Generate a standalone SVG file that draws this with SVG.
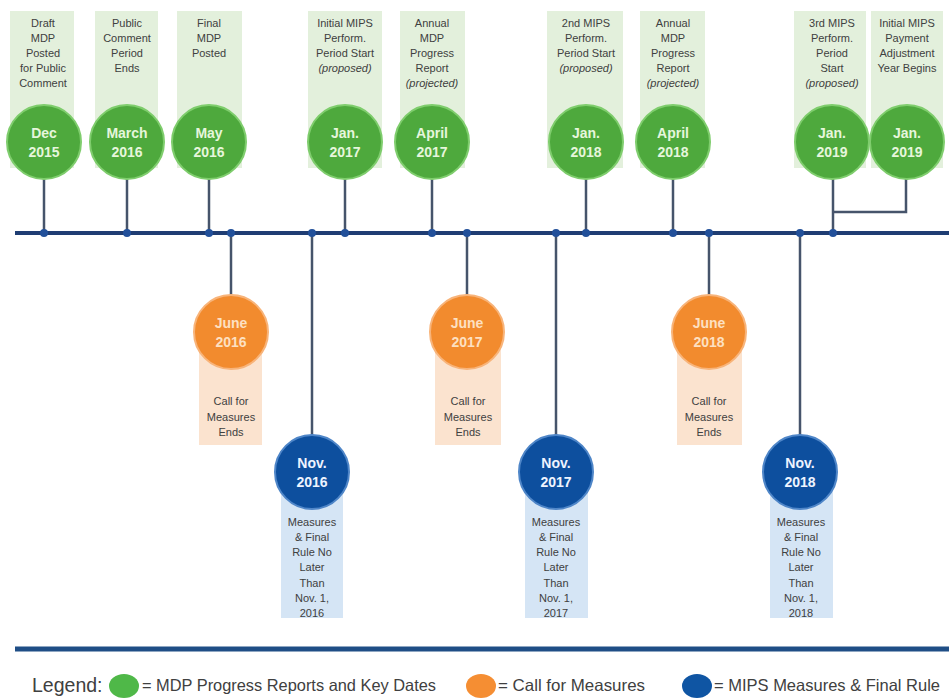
<svg xmlns="http://www.w3.org/2000/svg" width="949" height="698" viewBox="0 0 949 698">
  <style>
    .box-g { fill: #e3f0dc; }
    .box-o { fill: #fbe3cf; }
    .box-b { fill: #d5e5f5; }
    .c-g { fill: #4ea93d; stroke: #7fcd6d; stroke-width: 2; }
    .c-o { fill: #f28b2e; stroke: #f8b47a; stroke-width: 2; }
    .c-b { fill: #0d4f9e; stroke: #4f86c8; stroke-width: 2; }
    .lbl { font-family: "Liberation Sans", Arial, sans-serif; font-size: 11px; fill: #404040; text-anchor: middle; }
    .it { font-style: italic; }
    .date { font-family: "Liberation Sans", Arial, sans-serif; font-size: 14px; font-weight: bold; text-anchor: middle; }
    .dg { fill: #e6f6dc; }
    .do { fill: #fde0c2; }
    .db { fill: #eef4ff; }
    .stem { stroke: #46546b; stroke-width: 2.5; fill: none; }
    .axis { stroke: #1f3d73; stroke-width: 4; }
    .dot { fill: #22509a; }
    .leg { font-family: "Liberation Sans", Arial, sans-serif; fill: #404040; }
  </style>

  <!-- connectors: timeline axis, stems and junction dots -->
  <g id="connectors">
    <line class="axis" x1="15" y1="233" x2="949" y2="233"/>
    <line x1="15" y1="649" x2="949" y2="649" stroke="#1f4e86" stroke-width="5"/>
    <!-- stems up to green milestones -->
    <line class="stem" x1="44" y1="175" x2="44" y2="233"/>
    <line class="stem" x1="127" y1="175" x2="127" y2="233"/>
    <line class="stem" x1="209" y1="175" x2="209" y2="233"/>
    <line class="stem" x1="345" y1="175" x2="345" y2="233"/>
    <line class="stem" x1="432" y1="175" x2="432" y2="233"/>
    <line class="stem" x1="586" y1="175" x2="586" y2="233"/>
    <line class="stem" x1="673" y1="175" x2="673" y2="233"/>
    <line class="stem" x1="833" y1="175" x2="833" y2="233"/>
    <polyline class="stem" points="906,175 906,212 833,212"/>
    <!-- stems down to orange and blue milestones -->
    <line class="stem" x1="231" y1="233" x2="231" y2="298"/>
    <line class="stem" x1="467" y1="233" x2="467" y2="298"/>
    <line class="stem" x1="709" y1="233" x2="709" y2="298"/>
    <line class="stem" x1="312" y1="233" x2="312" y2="438"/>
    <line class="stem" x1="556" y1="233" x2="556" y2="438"/>
    <line class="stem" x1="800" y1="233" x2="800" y2="438"/>
    <!-- junction dots -->
    <g class="dot">
      <circle cx="44" cy="233" r="4"/>
      <circle cx="127" cy="233" r="4"/>
      <circle cx="209" cy="233" r="4"/>
      <circle cx="231" cy="233" r="4"/>
      <circle cx="312" cy="233" r="4"/>
      <circle cx="345" cy="233" r="4"/>
      <circle cx="432" cy="233" r="4"/>
      <circle cx="467" cy="233" r="4"/>
      <circle cx="556" cy="233" r="4"/>
      <circle cx="586" cy="233" r="4"/>
      <circle cx="673" cy="233" r="4"/>
      <circle cx="709" cy="233" r="4"/>
      <circle cx="800" cy="233" r="4"/>
      <circle cx="833" cy="233" r="4"/>
    </g>
  </g>

  <!-- green milestones (MDP progress reports and key dates) -->
  <g id="dec-2015">
    <rect class="box-g" x="10" y="11" width="64" height="157"/>
    <text class="lbl" x="43" y="27">Draft</text>
    <text class="lbl" x="43" y="42">MDP</text>
    <text class="lbl" x="43" y="57">Posted</text>
    <text class="lbl" x="43" y="72">for Public</text>
    <text class="lbl" x="43" y="87">Comment</text>
    <circle class="c-g" cx="44" cy="142" r="37"/>
    <text class="date dg" x="44" y="138">Dec</text>
    <text class="date dg" x="44" y="157">2015</text>
  </g>
  <g id="mar-2016">
    <rect class="box-g" x="95" y="11" width="63" height="157"/>
    <text class="lbl" x="127" y="27">Public</text>
    <text class="lbl" x="127" y="42">Comment</text>
    <text class="lbl" x="127" y="57">Period</text>
    <text class="lbl" x="127" y="72">Ends</text>
    <circle class="c-g" cx="127" cy="142" r="37"/>
    <text class="date dg" x="127" y="138">March</text>
    <text class="date dg" x="127" y="157">2016</text>
  </g>
  <g id="may-2016">
    <rect class="box-g" x="177" y="11" width="65" height="157"/>
    <text class="lbl" x="209" y="27">Final</text>
    <text class="lbl" x="209" y="42">MDP</text>
    <text class="lbl" x="209" y="57">Posted</text>
    <circle class="c-g" cx="209" cy="142" r="37"/>
    <text class="date dg" x="209" y="138">May</text>
    <text class="date dg" x="209" y="157">2016</text>
  </g>
  <g id="jan-2017">
    <rect class="box-g" x="308" y="11" width="74" height="157"/>
    <text class="lbl" x="345" y="27">Initial MIPS</text>
    <text class="lbl" x="345" y="42">Perform.</text>
    <text class="lbl" x="345" y="57">Period Start</text>
    <text class="lbl it" x="345" y="72">(proposed)</text>
    <circle class="c-g" cx="345" cy="142" r="37"/>
    <text class="date dg" x="345" y="138">Jan.</text>
    <text class="date dg" x="345" y="157">2017</text>
  </g>
  <g id="apr-2017">
    <rect class="box-g" x="400" y="11" width="65" height="157"/>
    <text class="lbl" x="432" y="27">Annual</text>
    <text class="lbl" x="432" y="42">MDP</text>
    <text class="lbl" x="432" y="57">Progress</text>
    <text class="lbl" x="432" y="72">Report</text>
    <text class="lbl it" x="432" y="87">(projected)</text>
    <circle class="c-g" cx="432" cy="142" r="37"/>
    <text class="date dg" x="432" y="138">April</text>
    <text class="date dg" x="432" y="157">2017</text>
  </g>
  <g id="jan-2018">
    <rect class="box-g" x="547" y="11" width="76" height="157"/>
    <text class="lbl" x="586" y="27">2nd MIPS</text>
    <text class="lbl" x="586" y="42">Perform.</text>
    <text class="lbl" x="586" y="57">Period Start</text>
    <text class="lbl it" x="586" y="72">(proposed)</text>
    <circle class="c-g" cx="586" cy="142" r="37"/>
    <text class="date dg" x="586" y="138">Jan.</text>
    <text class="date dg" x="586" y="157">2018</text>
  </g>
  <g id="apr-2018">
    <rect class="box-g" x="640" y="11" width="65" height="157"/>
    <text class="lbl" x="673" y="27">Annual</text>
    <text class="lbl" x="673" y="42">MDP</text>
    <text class="lbl" x="673" y="57">Progress</text>
    <text class="lbl" x="673" y="72">Report</text>
    <text class="lbl it" x="673" y="87">(projected)</text>
    <circle class="c-g" cx="673" cy="142" r="37"/>
    <text class="date dg" x="673" y="138">April</text>
    <text class="date dg" x="673" y="157">2018</text>
  </g>
  <g id="jan-2019-perf">
    <rect class="box-g" x="794" y="11" width="72" height="157"/>
    <text class="lbl" x="832" y="27">3rd MIPS</text>
    <text class="lbl" x="832" y="42">Perform.</text>
    <text class="lbl" x="832" y="57">Period</text>
    <text class="lbl" x="832" y="72">Start</text>
    <text class="lbl it" x="832" y="87">(proposed)</text>
    <circle class="c-g" cx="832" cy="142" r="37"/>
    <text class="date dg" x="832" y="138">Jan.</text>
    <text class="date dg" x="832" y="157">2019</text>
  </g>
  <g id="jan-2019-payment">
    <rect class="box-g" x="871" y="11" width="72" height="157"/>
    <text class="lbl" x="907" y="27">Initial MIPS</text>
    <text class="lbl" x="907" y="42">Payment</text>
    <text class="lbl" x="907" y="57">Adjustment</text>
    <text class="lbl" x="907" y="72">Year Begins</text>
    <circle class="c-g" cx="907" cy="142" r="37"/>
    <text class="date dg" x="907" y="138">Jan.</text>
    <text class="date dg" x="907" y="157">2019</text>
  </g>

  <!-- orange milestones (call for measures) -->
  <g id="jun-2016">
    <rect class="box-o" x="199" y="320" width="63" height="125"/>
    <circle class="c-o" cx="231" cy="332" r="37"/>
    <text class="date do" x="231" y="328">June</text>
    <text class="date do" x="231" y="347">2016</text>
    <text class="lbl" x="231" y="405">Call for</text>
    <text class="lbl" x="231" y="421">Measures</text>
    <text class="lbl" x="231" y="436">Ends</text>
  </g>
  <g id="jun-2017">
    <rect class="box-o" x="435" y="320" width="66" height="125"/>
    <circle class="c-o" cx="467" cy="332" r="37"/>
    <text class="date do" x="467" y="328">June</text>
    <text class="date do" x="467" y="347">2017</text>
    <text class="lbl" x="468" y="405">Call for</text>
    <text class="lbl" x="468" y="421">Measures</text>
    <text class="lbl" x="468" y="436">Ends</text>
  </g>
  <g id="jun-2018">
    <rect class="box-o" x="677" y="320" width="65" height="125"/>
    <circle class="c-o" cx="709" cy="332" r="37"/>
    <text class="date do" x="709" y="328">June</text>
    <text class="date do" x="709" y="347">2018</text>
    <text class="lbl" x="709" y="405">Call for</text>
    <text class="lbl" x="709" y="421">Measures</text>
    <text class="lbl" x="709" y="436">Ends</text>
  </g>

  <!-- blue milestones (MIPS measures and final rule) -->
  <g id="nov-2016">
    <rect class="box-b" x="281" y="460" width="62" height="158"/>
    <circle class="c-b" cx="312" cy="472" r="37"/>
    <text class="date db" x="312" y="468">Nov.</text>
    <text class="date db" x="312" y="487">2016</text>
    <text class="lbl" x="312" y="526">Measures</text>
    <text class="lbl" x="312" y="541">&amp; Final</text>
    <text class="lbl" x="312" y="556">Rule No</text>
    <text class="lbl" x="312" y="571">Later</text>
    <text class="lbl" x="312" y="587">Than</text>
    <text class="lbl" x="312" y="602">Nov. 1,</text>
    <text class="lbl" x="312" y="617">2016</text>
  </g>
  <g id="nov-2017">
    <rect class="box-b" x="525" y="460" width="63" height="158"/>
    <circle class="c-b" cx="556" cy="472" r="37"/>
    <text class="date db" x="556" y="468">Nov.</text>
    <text class="date db" x="556" y="487">2017</text>
    <text class="lbl" x="556" y="526">Measures</text>
    <text class="lbl" x="556" y="541">&amp; Final</text>
    <text class="lbl" x="556" y="556">Rule No</text>
    <text class="lbl" x="556" y="571">Later</text>
    <text class="lbl" x="556" y="587">Than</text>
    <text class="lbl" x="556" y="602">Nov. 1,</text>
    <text class="lbl" x="556" y="617">2017</text>
  </g>
  <g id="nov-2018">
    <rect class="box-b" x="770" y="460" width="63" height="158"/>
    <circle class="c-b" cx="800" cy="472" r="37"/>
    <text class="date db" x="800" y="468">Nov.</text>
    <text class="date db" x="800" y="487">2018</text>
    <text class="lbl" x="801" y="526">Measures</text>
    <text class="lbl" x="801" y="541">&amp; Final</text>
    <text class="lbl" x="801" y="556">Rule No</text>
    <text class="lbl" x="801" y="571">Later</text>
    <text class="lbl" x="801" y="587">Than</text>
    <text class="lbl" x="801" y="602">Nov. 1,</text>
    <text class="lbl" x="801" y="617">2018</text>
  </g>

  <!-- legend -->
  <g id="legend">
    <text class="leg" x="32" y="692" font-size="19.5">Legend:</text>
    <ellipse cx="124" cy="686" rx="15" ry="12" fill="#4fb848"/>
    <text class="leg" x="142" y="691" font-size="16.5" textLength="294" lengthAdjust="spacingAndGlyphs">= MDP Progress Reports and Key Dates</text>
    <ellipse cx="481" cy="686" rx="15" ry="12" fill="#f58e33"/>
    <text class="leg" x="498" y="691" font-size="16.5" textLength="147" lengthAdjust="spacingAndGlyphs">= Call for Measures</text>
    <ellipse cx="697" cy="686" rx="15" ry="12" fill="#0f55a3"/>
    <text class="leg" x="714" y="691" font-size="16.5" textLength="226" lengthAdjust="spacingAndGlyphs">= MIPS Measures &amp; Final Rule</text>
  </g>
</svg>
